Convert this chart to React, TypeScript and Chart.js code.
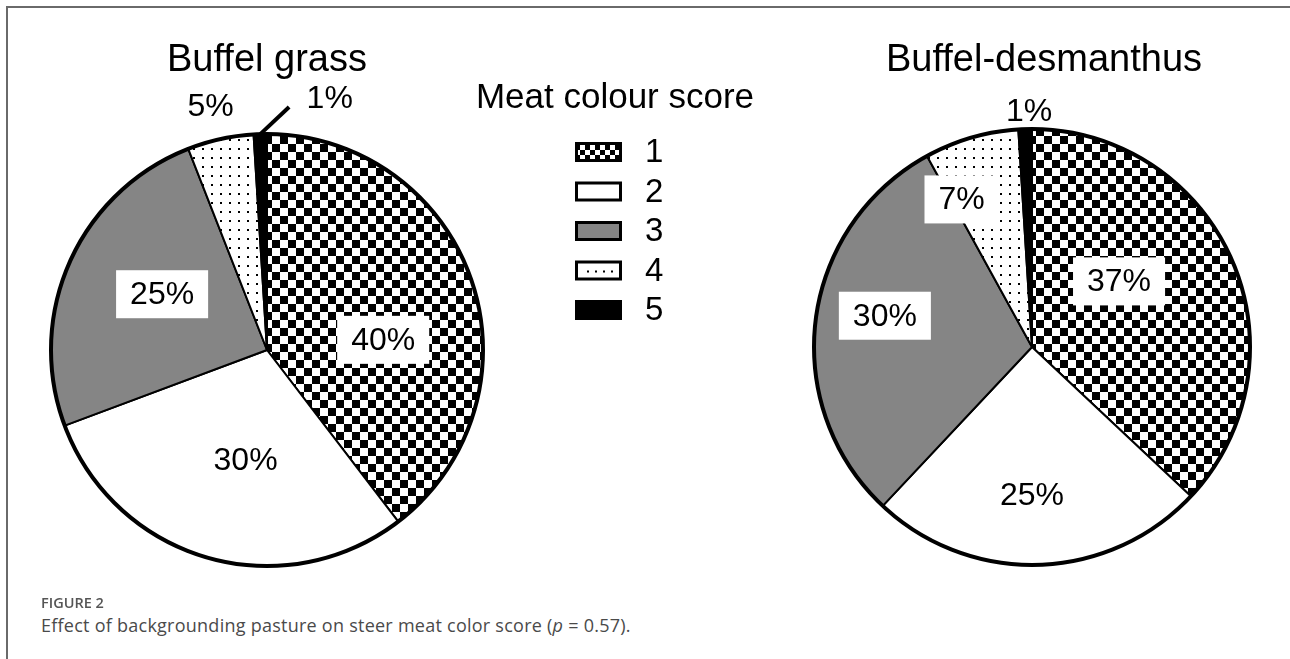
import { useEffect, useRef } from 'react';
import { Chart, registerables } from 'chart.js';

Chart.register(...registerables);

// ---- data ----
const scoreLabels = ['1', '2', '3', '4', '5'];
const buffelGrassPct = [40, 30, 25, 5, 1];
const buffelDesmanthusPct = [37, 25, 30, 7, 1];
const pieTitles = ['Buffel grass', 'Buffel-desmanthus'];
const legendTitle = 'Meat colour score';
const figureLabel = 'FIGURE 2';

// label placement (angle clockwise from top in degrees, fraction of radius, boxed)
const leftLabelAngle = [85, 191, 298, 347, 14];
const leftLabelRadius = [0.54, 0.52, 0.55, 1.16, 1.2];
const leftLabelBoxed = [true, false, true, false, false];
const rightLabelAngle = [53, 180, 282, 334.5, 359.3];
const rightLabelRadius = [0.5, 0.68, 0.69, 0.75, 1.08];
const rightLabelBoxed = [true, false, true, true, false];

const FONT = '"Liberation Sans", Arial, Helvetica, sans-serif';
const GRAY = '#858585';

function makeChecker(size: number): CanvasPattern {
  const c = document.createElement('canvas');
  c.width = size * 2;
  c.height = size * 2;
  const g = c.getContext('2d')!;
  g.fillStyle = '#fff';
  g.fillRect(0, 0, size * 2, size * 2);
  g.fillStyle = '#000';
  g.fillRect(0, 0, size, size);
  g.fillRect(size, size, size, size);
  return g.createPattern(c, 'repeat')!;
}

function makeDots(step: number, dot: number): CanvasPattern {
  const c = document.createElement('canvas');
  c.width = step;
  c.height = step;
  const g = c.getContext('2d')!;
  g.fillStyle = '#fff';
  g.fillRect(0, 0, step, step);
  g.fillStyle = '#000';
  g.fillRect(Math.floor(step / 2), Math.floor(step / 2), dot, dot);
  return g.createPattern(c, 'repeat')!;
}

function slicePatterns() {
  return [makeChecker(8), '#ffffff', GRAY, makeDots(9, 2), '#000000'];
}

const pieDecor = {
  id: 'pieDecor',
  afterDatasetsDraw(chart: any, _args: any, opts: any) {
    const ctx: CanvasRenderingContext2D = chart.ctx;
    const meta = chart.getDatasetMeta(0);
    const arc0 = meta.data[0];
    const cx = arc0.x;
    const cy = arc0.y;
    const R = arc0.outerRadius;
    const values: number[] = chart.data.datasets[0].data;
    ctx.save();
    // thick outer outline
    ctx.lineWidth = 4;
    ctx.strokeStyle = '#000';
    ctx.beginPath();
    ctx.arc(cx, cy, R, 0, Math.PI * 2);
    ctx.stroke();

    // leader line
    if (opts.leader) {
      const el = meta.data[opts.leader.index];
      const mid = (el.startAngle + el.endAngle) / 2;
      const x0 = cx + Math.cos(mid) * R;
      const y0 = cy + Math.sin(mid) * R;
      const a = (opts.leader.angle * Math.PI) / 180;
      const x1 = cx + Math.sin(a) * R * opts.leader.radius;
      const y1 = cy - Math.cos(a) * R * opts.leader.radius;
      ctx.lineWidth = 4;
      ctx.beginPath();
      ctx.moveTo(x0, y0);
      ctx.lineTo(x1, y1);
      ctx.stroke();
    }

    // percent labels
    ctx.font = `32px ${FONT}`;
    ctx.textAlign = 'center';
    ctx.textBaseline = 'middle';
    values.forEach((v, i) => {
      const a = (opts.angles[i] * Math.PI) / 180;
      const x = cx + Math.sin(a) * R * opts.radii[i];
      const y = cy - Math.cos(a) * R * opts.radii[i];
      const text = `${v}%`;
      if (opts.boxed[i]) {
        const w = ctx.measureText(text).width + 28;
        const h = 48;
        ctx.fillStyle = '#fff';
        ctx.fillRect(x - w / 2, y - h / 2, w, h);
      }
      ctx.fillStyle = '#000';
      ctx.fillText(text, x, y + 1);
    });

    // title
    ctx.font = `38px ${FONT}`;
    ctx.textBaseline = 'alphabetic';
    ctx.fillText(opts.title, cx + opts.titleDx, opts.titleBaseline);

    // legend
    if (opts.legend) {
      const L = opts.legend;
      ctx.font = `35px ${FONT}`;
      ctx.textAlign = 'center';
      ctx.fillText(legendTitle, L.titleX, L.titleBaseline);
      const labels: string[] = chart.data.labels;
      const sw = L.swatches;
      labels.forEach((lab, i) => {
        const y = L.firstRowY + i * L.rowGap;
        const x = L.x;
        ctx.fillStyle = sw[i];
        ctx.fillRect(x, y - 10, 47, 20);
        if (i === 3) {
          ctx.fillStyle = '#000';
          for (let k = 0; k < 4; k++) ctx.fillRect(x + 12 + k * 8, y, 2, 2);
        }
        ctx.lineWidth = 3;
        ctx.strokeStyle = '#000';
        ctx.strokeRect(x + 1.5, y - 8.5, 44, 17);
        ctx.fillStyle = '#000';
        ctx.font = `33px ${FONT}`;
        ctx.textAlign = 'left';
        ctx.textBaseline = 'middle';
        ctx.fillText(lab, L.textX, y + 1);
      });
    }
    ctx.restore();
  },
};

function PieCanvas(props: {
  width: number;
  height: number;
  left: number;
  values: number[];
  padding: { left: number; right: number; top: number; bottom: number };
  decor: any;
}) {
  const ref = useRef<HTMLCanvasElement | null>(null);
  useEffect(() => {
    if (!ref.current) return;
    const chart = new Chart(ref.current, {
      type: 'pie',
      data: {
        labels: scoreLabels,
        datasets: [
          {
            data: props.values,
            backgroundColor: slicePatterns() as any,
            borderColor: '#000',
            borderWidth: 2,
          },
        ],
      },
      options: {
        responsive: false,
        maintainAspectRatio: false,
        animation: false,
        layout: { padding: props.padding },
        plugins: {
          legend: { display: false },
          tooltip: { enabled: false },
          title: { display: false },
          pieDecor: props.decor,
        } as any,
      },
      plugins: [pieDecor],
    });
    return () => chart.destroy();
  }, []);
  return (
    <canvas
      ref={ref}
      width={props.width}
      height={props.height}
      style={{ position: 'absolute', left: props.left, top: 0, width: props.width, height: props.height }}
    />
  );
}

function legendSwatches() {
  return [makeChecker(5), '#ffffff', GRAY, '#ffffff', '#000000'];
}

export default function App() {
  return (
    <div
      style={{
        position: 'absolute',
        left: 0,
        top: 0,
        width: 1290,
        height: 659,
        background: '#fff',
        overflow: 'hidden',
      }}
    >
      <div
        style={{
          position: 'absolute',
          left: 6,
          top: 6,
          width: 1290,
          height: 659,
          borderTop: '2px solid #6a6a6a',
          borderLeft: '2px solid #6a6a6a',
        }}
      />
      <PieCanvas
        width={780}
        height={600}
        left={0}
        values={buffelGrassPct}
        padding={{ left: 50, right: 296, top: 133, bottom: 33 }}
        decor={{
          angles: leftLabelAngle,
          radii: leftLabelRadius,
          boxed: leftLabelBoxed,
          leader: { index: 4, angle: 5.2, radius: 1.13 },
          title: pieTitles[0],
          titleDx: 0,
          titleBaseline: 71,
          legend: {
            titleX: 615,
            titleBaseline: 108,
            x: 575,
            textX: 645,
            firstRowY: 152,
            rowGap: 39.5,
            swatches: legendSwatches(),
          },
        }}
      />
      <PieCanvas
        width={510}
        height={600}
        left={780}
        values={buffelDesmanthusPct}
        padding={{ left: 33, right: 39, top: 128, bottom: 34 }}
        decor={{
          angles: rightLabelAngle,
          radii: rightLabelRadius,
          boxed: rightLabelBoxed,
          title: pieTitles[1],
          titleDx: 12,
          titleBaseline: 71,
        }}
      />
      <div
        style={{
          position: 'absolute',
          left: 41,
          top: 594,
          fontFamily: '"Open Sans", "Noto Sans", sans-serif',
          fontSize: 14.5,
          fontWeight: 600,
          color: '#555',
          lineHeight: '18px',
        }}
      >
        {figureLabel}
      </div>
      <div
        style={{
          position: 'absolute',
          left: 41,
          top: 613,
          fontFamily: '"Open Sans", "Noto Sans", sans-serif',
          fontSize: 18,
          letterSpacing: '0.25px',
          fontWeight: 400,
          color: '#4a4a4a',
          lineHeight: '24px',
          whiteSpace: 'nowrap',
        }}
      >
        Effect of backgrounding pasture on steer meat color score (<i>p</i> = 0.57).
      </div>
    </div>
  );
}
